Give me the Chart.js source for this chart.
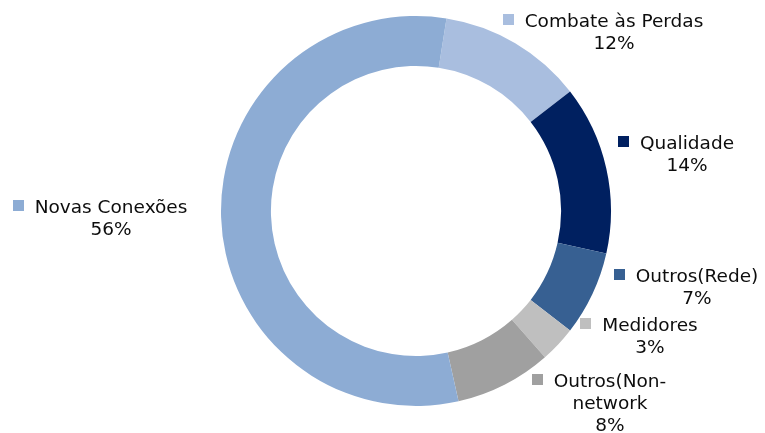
<!DOCTYPE html>
<html>
<head>
<meta charset="utf-8">
<script src="https://cdn.jsdelivr.net/npm/chart.js@4/dist/chart.umd.min.js"></script>
<style>
  body { margin: 0; background: #fff; }
</style>
</head>
<body>
<canvas id="investChart" width="765" height="433"></canvas>
<script>
// investment split (percent)
const categories = ['Combate às Perdas', 'Qualidade', 'Outros(Rede)', 'Medidores', ['Outros(Non-', 'network'], 'Novas Conexões'];
const shares = [12, 14, 7, 3, 8, 56];
const sliceColors = ['#A9BEDF', '#002060', '#376092', '#BFBFBF', '#A0A0A0', '#8DACD4'];

// where each label block sits: text centre x, first baseline y
const labelSpots = [[614, 27], [687, 149], [697, 282], [650, 331], [610, 387], [111, 213]];

const FONT = '18.5px "DejaVu Sans", Verdana, sans-serif';

// draws the outside labels: small colour square + name + percent underneath
const sliceLabels = {
  id: 'sliceLabels',
  afterDraw(chart) {
    const ctx = chart.ctx;
    ctx.save();
    ctx.font = FONT;
    ctx.fillStyle = '#0d0d0d';
    ctx.textBaseline = 'alphabetic';
    ctx.textAlign = 'center';
    categories.forEach((cat, i) => {
      const lines = (Array.isArray(cat) ? cat.slice() : [cat]);
      lines.push(shares[i] + '%');
      const [cx, y0] = labelSpots[i];
      const firstW = ctx.measureText(lines[0]).width;
      lines.forEach((txt, k) => ctx.fillText(txt, cx, y0 + k * 22));
      // marker square left of the first line
      const left = cx - firstW / 2;
      ctx.fillStyle = sliceColors[i];
      ctx.fillRect(Math.round(left - 22), y0 - 13, 11, 11);
      ctx.fillStyle = '#0d0d0d';
    });
    ctx.restore();
  }
};

new Chart(document.getElementById('investChart'), {
  type: 'doughnut',
  data: {
    labels: categories,
    datasets: [{
      data: shares,
      backgroundColor: sliceColors,
      borderWidth: 0
    }]
  },
  options: {
    responsive: false,
    animation: false,
    rotation: 9,
    cutout: '74.4%',
    layout: { padding: { left: 221, right: 154, top: 16, bottom: 27 } },
    plugins: {
      legend: { display: false },
      tooltip: { enabled: false }
    }
  },
  plugins: [sliceLabels]
});
</script>
</body>
</html>
